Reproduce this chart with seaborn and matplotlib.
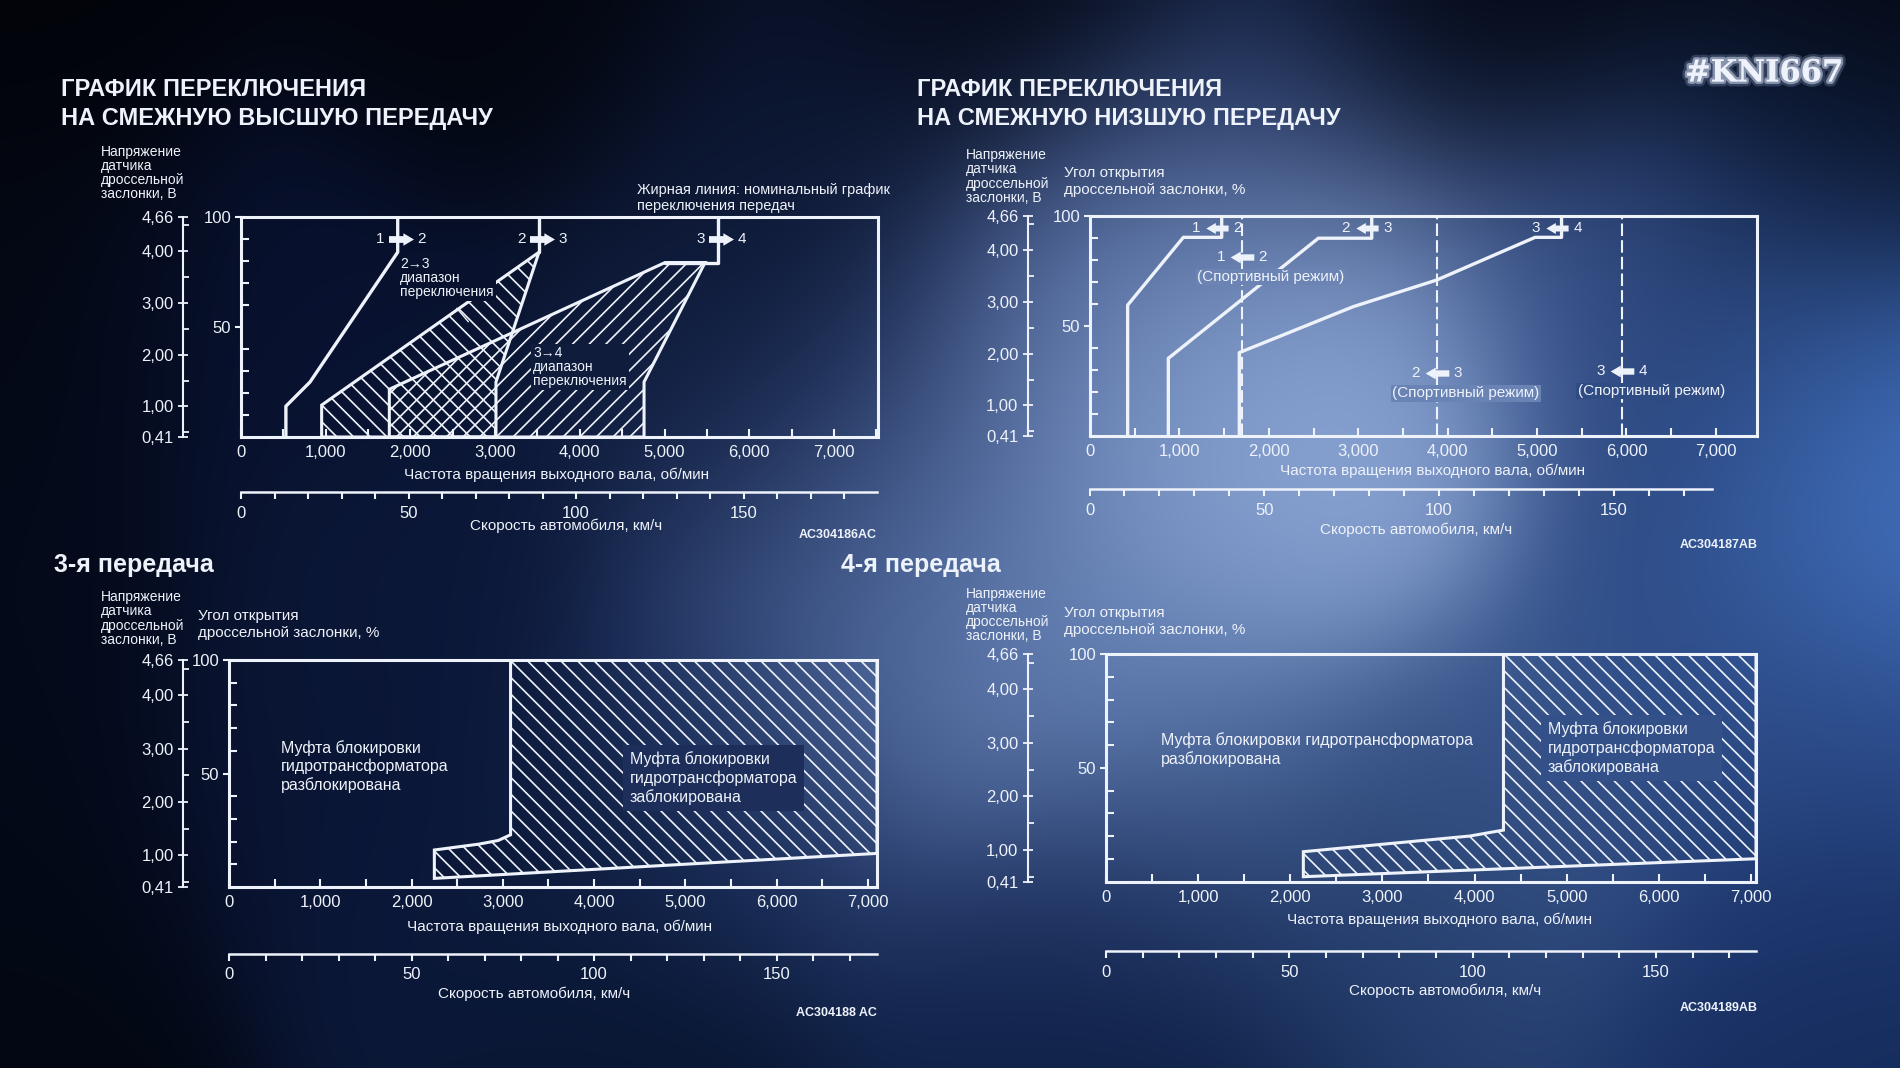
import numpy as np
import matplotlib
matplotlib.use("Agg")
import matplotlib.pyplot as plt
import matplotlib.patheffects as pe
from matplotlib.colors import to_rgb
from matplotlib.path import Path
from matplotlib.transforms import ScaledTranslation
import seaborn as sns

# ---- upshift schedule (output shaft rpm, throttle opening %) ----
up12_rpm = [530, 530, 815, 1850, 1850]
up12_pct = [0, 14, 25, 84, 100]
range23_rpm = [952, 952, 3518, 3010, 3010]
range23_pct = [0, 14.5, 84, 25, 0]
up23_rpm = [3518, 3518]
up23_pct = [84, 100]
range34_rpm = [1751, 1751, 5006, 5478, 4758, 4758]
range34_pct = [0, 21.7, 79.3, 79.3, 25, 0]
up34_rpm = [5006, 5635, 5635]
up34_pct = [79.3, 79.3, 100]
up_shift_rpm = [1850, 3518, 5635]
up_shift_pct = [90, 90, 90]
shift_pairs = [("1", "2"), ("2", "3"), ("3", "4")]

# ---- downshift schedule ----
down12_rpm = [421, 421, 1044, 1473, 1473]
down12_pct = [0, 59.5, 90.3, 90.3, 100]
down23_rpm = [876, 876, 2554, 3151, 3151]
down23_pct = [0, 35.3, 89.9, 89.9, 100]
down34_rpm = [1670, 1670, 2945, 3878, 4978, 5274, 5274]
down34_pct = [0, 37.9, 58.8, 70.9, 90.3, 90.3, 100]
down_shift_rpm = [1473, 3151, 5274]
down_shift_pct = [94.5, 94.5, 94.5]
sport_rpm = [1697, 3878, 5950]
sport_pct = [81.5, 28.5, 29.5]

# ---- lock-up clutch zones ----
lock3_rpm = [2250, 2250, 2740, 2950, 3085, 3085, 7100, 7100]
lock3_pct = [3.8, 16.3, 18.9, 20.5, 23, 100, 100, 14.8]
lock4_rpm = [2142, 2142, 3952, 4314, 4314, 7055, 7055]
lock4_pct = [2.1, 13.1, 20, 22.6, 100, 100, 10]

rpm_ticks = [0, 1000, 2000, 3000, 4000, 5000, 6000, 7000]
rpm_labels = ["0", "1,000", "2,000", "3,000", "4,000", "5,000", "6,000", "7,000"]
pct_ticks = [50, 100]
volt_ticks = [0.41, 1.0, 2.0, 3.0, 4.0, 4.66]
volt_labels = ["0,41", "1,00", "2,00", "3,00", "4,00", "4,66"]
speed_ticks = [0, 50, 100, 150]

W, H, DPI = 1900, 1068, 100
WHITE = "#eef2fa"
BODY = ["Liberation Sans", "DejaVu Sans"]

sns.set_theme(style="dark")
plt.rcParams["font.family"] = BODY
plt.rcParams["hatch.linewidth"] = 1.2
plt.rcParams["hatch.color"] = WHITE

fig = plt.figure(figsize=(W / DPI, H / DPI), dpi=DPI)

# blurred blue backdrop: colour anchors blended with a gaussian kernel
backdrop = [
    (0, 0, "#02040a"), (500, 0, "#03060f"), (1000, 0, "#050a18"), (1500, 0, "#040916"),
    (1900, 0, "#03060f"), (0, 300, "#040814"), (300, 330, "#081230"), (727, 363, "#0f1c3d"),
    (1006, 363, "#2a3d6b"), (1150, 300, "#4a64a0"), (1270, 400, "#9ab4de"), (1200, 470, "#7a96c8"),
    (1230, 370, "#9ab4de"), (1320, 430, "#88a3d3"), (1160, 420, "#86a2d2"),
    (1575, 300, "#3a5590"), (1720, 400, "#1e3565"), (1880, 500, "#4a7ac8"), (1870, 440, "#3f6fc0"),
    (1850, 180, "#0f1f40"),
    (1250, 170, "#1c2d58"), (800, 170, "#0c1733"), (0, 560, "#040a1a"), (400, 560, "#0c1838"),
    (848, 520, "#263a68"), (920, 605, "#4f6a9f"), (1055, 630, "#6f8abd"), (990, 590, "#6580b4"),
    (1212, 727, "#4c6a9e"),
    (1515, 787, "#3d5a90"), (1700, 650, "#2c4a85"), (1880, 750, "#2a4a88"), (727, 787, "#1e3260"),
    (363, 787, "#0a1535"), (0, 850, "#040918"), (500, 900, "#0c1a3c"), (1090, 900, "#1c3060"),
    (1400, 900, "#203866"), (1818, 950, "#1a3268"), (0, 1068, "#030712"), (600, 1068, "#081530"),
    (1100, 1068, "#0c1d40"), (1900, 1068, "#142a58"),
]
step = 4
gy, gx = np.mgrid[0:H:step, 0:W:step].astype(float)
num = np.zeros(gx.shape + (3,))
den = np.zeros(gx.shape)
for ax_, ay_, c in backdrop:
    w = np.exp(-0.5 * ((gx - ax_) ** 2 + (gy - ay_) ** 2) / 125.0 ** 2) + 1e-12
    num += w[..., None] * np.array(to_rgb(c))
    den += w
bg = np.clip(num / den[..., None], 0, 1)

bg_ax = fig.add_axes([0, 0, 1, 1])
bg_ax.imshow(bg, aspect="auto", interpolation="bicubic", extent=(0, W, H, 0))
bg_ax.set_xlim(0, W)
bg_ax.set_ylim(H, 0)
bg_ax.set_axis_off()


def bgc(x, y):
    return tuple(bg[int(np.clip(y, 0, H - 1)) // step, int(np.clip(x, 0, W - 1)) // step])


def ftext(x, y, s, **kw):
    kw.setdefault("color", WHITE)
    return fig.text(x / W, 1 - y / H, s, **kw)


def to_volt(p):
    return 0.41 + (4.66 - 0.41) * np.asarray(p) / 100


def to_pct(v):
    return (np.asarray(v) - 0.41) * 100 / (4.66 - 0.41)


def panel(l, t, r, b, xmax, volt_x):
    ax = fig.add_axes([l / W, 1 - b / H, (r - l) / W, (b - t) / H])
    ax.set_facecolor("none")
    ax.grid(False)
    for s in ax.spines.values():
        s.set_visible(True)
        s.set_color(WHITE)
        s.set_linewidth(2.2)
    ax.set_xticks(rpm_ticks, rpm_labels)
    ax.set_xticks([v + 500 for v in rpm_ticks if v + 500 < xmax], minor=True)
    ax.set_yticks(pct_ticks, [str(v) for v in pct_ticks])
    ax.set_yticks(range(10, 100, 10), minor=True)
    ax.set_xlim(0, xmax)
    ax.set_ylim(0, 100)
    ax.tick_params(axis="x", which="both", direction="in", length=6, width=1.5,
                   color=WHITE, labelcolor=WHITE, labelsize=12, pad=6, bottom=True)
    ax.tick_params(axis="y", which="major", direction="out", length=4, width=1.5,
                   color=WHITE, labelcolor=WHITE, labelsize=12, pad=3, left=True)
    ax.tick_params(axis="y", which="minor", direction="in", length=6, width=1.5,
                   color=WHITE, left=True)
    sec = ax.secondary_yaxis((volt_x - l) / (r - l), functions=(to_volt, to_pct))
    sec.set_yticks(volt_ticks, volt_labels)
    sec.set_yticks([0.5, 1.5, 2.5, 3.5, 4.5], minor=True)
    for s in sec.spines.values():
        s.set_color(WHITE)
        s.set_linewidth(1.5)
    sec.tick_params(which="major", direction="inout", length=7, width=1.3,
                    color=WHITE, labelcolor=WHITE, labelsize=12, pad=3)
    sec.tick_params(which="minor", direction="in", length=4, width=1.3, color=WHITE)
    ax.geom = (l, t, r, b, xmax)
    return ax


def data_px(ax, rpm, pct):
    l, t, r, b, xmax = ax.geom
    return l + rpm / xmax * (r - l), b - pct / 100 * (b - t)


def speed_axis(x0, x1, y, kmax):
    sp = fig.add_axes([x0 / W, 1 - y / H, (x1 - x0) / W, 0.0001])
    sp.set_facecolor("none")
    sp.grid(False)
    sp.set_yticks([])
    for k in ["top", "left", "right"]:
        sp.spines[k].set_visible(False)
    sp.spines["bottom"].set_color(WHITE)
    sp.spines["bottom"].set_linewidth(1.8)
    sp.set_xticks(speed_ticks, [str(v) for v in speed_ticks])
    sp.set_xticks([v for v in range(10, int(kmax) + 1, 10) if v % 50], minor=True)
    sp.set_xlim(0, kmax)
    sp.tick_params(axis="x", which="both", direction="out", length=5, width=1.5,
                   color=WHITE, labelcolor=WHITE, labelsize=12, pad=5, bottom=True)
    return sp


def line(ax, x, y, **kw):
    sns.lineplot(x=x, y=y, sort=False, estimator=None, color=WHITE, lw=2.4, ax=ax, **kw)


R_ARROW = Path([(-1, -.27), (.15, -.27), (.15, -.5), (1, 0), (.15, .5), (.15, .27), (-1, .27), (-1, -.27)],
               closed=True)
L_ARROW = Path([(-x, y) for x, y in R_ARROW.vertices], closed=True)


def shift_marks(ax, rpm, pct, pairs, right, dx=0, ms=18):
    off = ScaledTranslation(dx / DPI, 0, fig.dpi_scale_trans)
    ax.plot(rpm, pct, ls="none", marker=R_ARROW if right else L_ARROW, ms=ms, mfc=WHITE,
            mec="none", transform=ax.transData + off, zorder=6, clip_on=False)
    for x, y, (a, c) in zip(rpm, pct, pairs):
        ax.annotate(a, (x, y), xytext=(dx * 0.72 - 12, 0), textcoords="offset points",
                    ha="right", va="center", fontsize=11, color=WHITE)
        ax.annotate(c, (x, y), xytext=(dx * 0.72 + 12, 0), textcoords="offset points",
                    ha="left", va="center", fontsize=11, color=WHITE)


def boxed(ax, x, y, s, dxc=40, pad=0.25, **kw):
    px, py = data_px(ax, x, y)
    ax.text(x, y, s, color=WHITE, zorder=7,
            bbox=dict(boxstyle="square,pad=%g" % pad, fc=bgc(px + dxc, py), ec="none"), **kw)


HATCH_UP = "\\\\"
HATCH_FWD = "//"

# ================= upshift =================
ax1 = panel(241, 217, 878, 437, 7520, 183)
ax1.fill(range23_rpm, range23_pct, facecolor="none", edgecolor=WHITE, hatch=HATCH_UP, lw=2.2)
ax1.fill(range34_rpm, range34_pct, facecolor="none", edgecolor=WHITE, hatch=HATCH_FWD, lw=2.2)
line(ax1, up12_rpm, up12_pct)
line(ax1, up23_rpm, up23_pct)
line(ax1, up34_rpm, up34_pct)
shift_marks(ax1, up_shift_rpm, up_shift_pct, shift_pairs, True, dx=3)
boxed(ax1, 1877, 72.1, "2→3\nдиапазон\nпереключения", ha="left", va="center",
      fontsize=10, linespacing=1.0, pad=0.15)
ax1.plot([2547, 2684], [58.5, 52.4], color=WHITE, lw=1)
boxed(ax1, 3451, 32, "3→4\nдиапазон\nпереключения", ha="left", va="center",
      fontsize=10, linespacing=1.0, pad=0.15)
speed_axis(241, 877, 492, 189.8)

ftext(61, 104, "ГРАФИК ПЕРЕКЛЮЧЕНИЯ\nНА СМЕЖНУЮ ВЫСШУЮ ПЕРЕДАЧУ", fontsize=17,
      fontweight="bold", va="center", ha="left", linespacing=1.38)
ftext(100.6, 173, "Напряжение\nдатчика\nдроссельной\nзаслонки, В", fontsize=10,
      va="center", ha="left", linespacing=1.03)
ftext(637, 198, "Жирная линия: номинальный график\nпереключения передач", fontsize=10.5,
      va="center", ha="left", linespacing=1.15)
ftext(557, 475, "Частота вращения выходного вала, об/мин", fontsize=11, ha="center", va="center")
ftext(566, 526, "Скорость автомобиля, км/ч", fontsize=11, ha="center", va="center")
ftext(877, 535, "AC304186AC", fontsize=9, fontweight="bold", ha="right", va="center")

# ================= downshift =================
ax2 = panel(1090, 216, 1757, 436, 7460, 1027.5)
ax2.vlines(sport_rpm, 0, 100, colors=WHITE, lw=1.5, linestyles=(0, (6, 2)))
line(ax2, down12_rpm, down12_pct)
line(ax2, down23_rpm, down23_pct)
line(ax2, down34_rpm, down34_pct)
shift_marks(ax2, down_shift_rpm, down_shift_pct, shift_pairs, False, dx=-5, ms=16)
shift_marks(ax2, sport_rpm, sport_pct, shift_pairs, False, dx=0, ms=17)
for x, y in zip(sport_rpm, sport_pct):
    px, py = data_px(ax2, x, y)
    ax2.annotate("(Спортивный режим)", (x, y), xytext=(21, -14.5), textcoords="offset points",
                 ha="center", va="center", fontsize=11, color=WHITE, zorder=7,
                 bbox=dict(boxstyle="square,pad=0.08", fc=bgc(px + 29, py + 20), ec="none"))
speed_axis(1089.5, 1711.5, 489, 178)

ftext(917, 104, "ГРАФИК ПЕРЕКЛЮЧЕНИЯ\nНА СМЕЖНУЮ НИЗШУЮ ПЕРЕДАЧУ", fontsize=17,
      fontweight="bold", va="center", ha="left", linespacing=1.38)
ftext(966, 176.5, "Напряжение\nдатчика\nдроссельной\nзаслонки, В", fontsize=10,
      va="center", ha="left", linespacing=1.03)
ftext(1064, 181.5, "Угол открытия\nдроссельной заслонки, %", fontsize=11,
      va="center", ha="left", linespacing=1.3)
ftext(1433, 471, "Частота вращения выходного вала, об/мин", fontsize=11, ha="center", va="center")
ftext(1416, 529.5, "Скорость автомобиля, км/ч", fontsize=11, ha="center", va="center")
ftext(1758, 545, "AC304187AB", fontsize=9, fontweight="bold", ha="right", va="center")

# ================= 3rd gear lock-up =================
ax3 = panel(229, 660, 877, 887, 7100, 183)
ax3.fill(lock3_rpm, lock3_pct, facecolor="none", edgecolor=WHITE, hatch=HATCH_UP, lw=2.2)
ax3.text(570, 53, "Муфта блокировки\nгидротрансформатора\nразблокирована", color=WHITE,
         fontsize=11.5, ha="left", va="center", linespacing=1.25)
boxed(ax3, 4389, 47.9, "Муфта блокировки\nгидротрансформатора\nзаблокирована",
      fontsize=11.5, ha="left", va="center", linespacing=1.25, pad=0.4)
speed_axis(229, 877, 953.6, 177.5)

ftext(54.5, 565, "3-я передача", fontsize=18, fontweight="bold", ha="left", va="center")
ftext(100.6, 618.5, "Напряжение\nдатчика\nдроссельной\nзаслонки, В", fontsize=10,
      va="center", ha="left", linespacing=1.03)
ftext(197.5, 624.5, "Угол открытия\nдроссельной заслонки, %", fontsize=11,
      va="center", ha="left", linespacing=1.3)
ftext(560, 927, "Частота вращения выходного вала, об/мин", fontsize=11, ha="center", va="center")
ftext(534, 993.6, "Скорость автомобиля, км/ч", fontsize=11, ha="center", va="center")
ftext(877, 1013, "AC304188 AC", fontsize=9, fontweight="bold", ha="right", va="center")

# ================= 4th gear lock-up =================
ax4 = panel(1106, 654, 1756, 881.5, 7055, 1027.5)
ax4.fill(lock4_rpm, lock4_pct, facecolor="none", edgecolor=WHITE, hatch=HATCH_UP, lw=2.2)
ax4.text(594, 57.8, "Муфта блокировки гидротрансформатора\nразблокирована", color=WHITE,
         fontsize=11.5, ha="left", va="center", linespacing=1.25)
boxed(ax4, 4793, 58.7, "Муфта блокировки\nгидротрансформатора\nзаблокирована",
      fontsize=11.5, ha="left", va="center", linespacing=1.25, pad=0.4)
speed_axis(1106, 1756, 951, 177.3)

ftext(841, 565, "4-я передача", fontsize=18, fontweight="bold", ha="left", va="center")
ftext(966, 615, "Напряжение\nдатчика\nдроссельной\nзаслонки, В", fontsize=10,
      va="center", ha="left", linespacing=1.03)
ftext(1064, 621.5, "Угол открытия\nдроссельной заслонки, %", fontsize=11,
      va="center", ha="left", linespacing=1.3)
ftext(1439.5, 919.7, "Частота вращения выходного вала, об/мин", fontsize=11, ha="center", va="center")
ftext(1445.6, 991, "Скорость автомобиля, км/ч", fontsize=11, ha="center", va="center")
ftext(1758, 1008, "AC304189AB", fontsize=9, fontweight="bold", ha="right", va="center")

ftext(1764, 73, "#KNI667", fontsize=22, fontweight="bold", family=["DejaVu Serif"],
      ha="center", va="center",
      path_effects=[pe.Stroke(linewidth=7, foreground="#9fb3d9", alpha=0.25),
                    pe.Stroke(linewidth=3.5, foreground="#dfe8ff", alpha=0.5), pe.Normal()])

fig.savefig("out.png", dpi=DPI)
